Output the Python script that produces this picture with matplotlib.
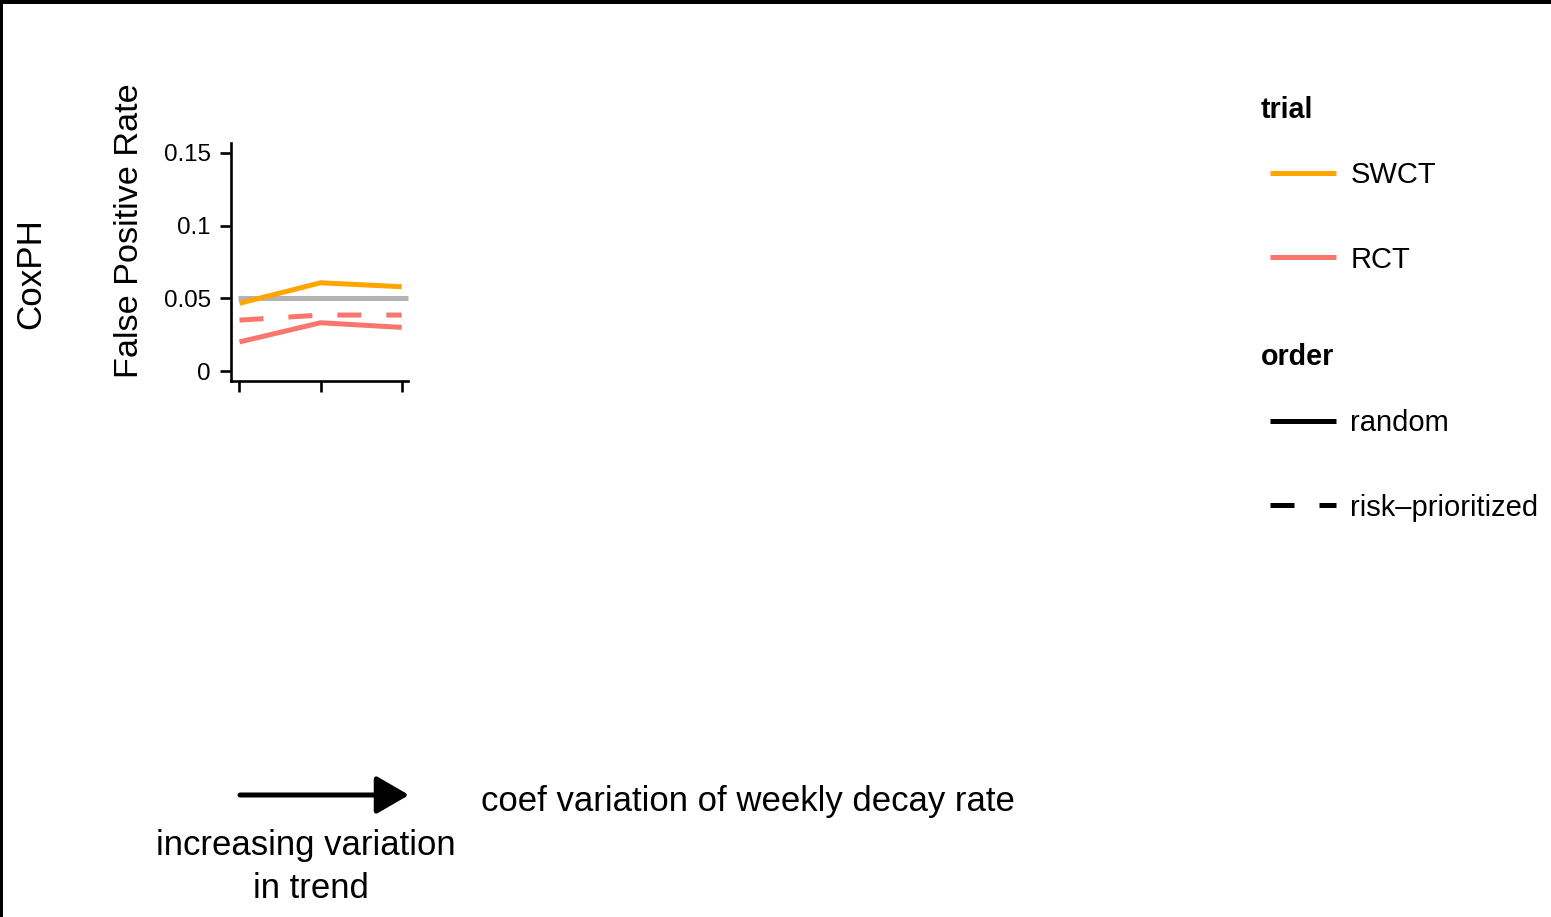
import matplotlib
matplotlib.use("Agg")
import matplotlib.pyplot as plt
from matplotlib.lines import Line2D
from matplotlib.patches import FancyArrowPatch, Rectangle

plt.rcParams["font.family"] = ["Liberation Sans", "DejaVu Sans"]

# ---- data ----
variation_levels = [1, 2, 3]
swct_random = [0.0466, 0.0607, 0.058]
rct_random = [0.020, 0.0332, 0.030]
rct_risk = [0.035, 0.0385, 0.0385]
nominal_alpha = 0.05
y_ticks = [0, 0.05, 0.1, 0.15]
y_ticklabels = ["0", "0.05", "0.1", "0.15"]

ORANGE = "#FFA500"
SALMON = "#F8766D"
GREY = "#B3B3B3"
DASHED = (0, (4.8, 5.0))

W, H = 1551, 917
fig = plt.figure(figsize=(W / 100, H / 100), dpi=100)


def fx(px):
    return px / W


def fy(py):
    return 1 - py / H


# panel
left, right, top, bottom = 231, 408, 143, 381
ax = fig.add_axes([fx(left), fy(bottom), fx(right - left), (bottom - top) / H])
lw = 3.6
ax.hlines(nominal_alpha, 0.98, 3.0777, color=GREY, lw=lw, clip_on=False, zorder=1)
ax.plot(variation_levels, swct_random, color=ORANGE, lw=lw, solid_capstyle="butt", zorder=3)
ax.plot(variation_levels, rct_random, color=SALMON, lw=lw, solid_capstyle="butt", zorder=3)
ax.plot(variation_levels, rct_risk, color=SALMON, lw=lw, linestyle=DASHED,
        dash_capstyle="butt", zorder=3)

ax.set_xlim(0.8952, 3.0777)
ax.set_ylim(-0.00688, 0.15688)
ax.set_xticks(variation_levels)
ax.set_xticklabels([])
ax.set_yticks(y_ticks)
ax.set_yticklabels(y_ticklabels)
for s in ["top", "right"]:
    ax.spines[s].set_visible(False)
for s in ["left", "bottom"]:
    ax.spines[s].set_linewidth(1.9)
ax.tick_params(axis="both", length=8, width=1.9, color="black")
ax.tick_params(axis="y", labelsize=17.4, pad=6.5)
ax.patch.set_alpha(0)

# axis / facet labels
fig.text(fx(129), fy(231), "False Positive Rate", rotation=90, fontsize=24.7,
         ha="center", va="center")
fig.text(fx(31), fy(274), "CoxPH", rotation=90, fontsize=25.2, ha="center", va="center")

# legends: bold titles with indented key rows beneath
trial_handles = [Line2D([], [], color=ORANGE, lw=lw, solid_capstyle="butt"),
                 Line2D([], [], color=SALMON, lw=lw, solid_capstyle="butt")]
order_handles = [Line2D([], [], color="black", lw=lw, solid_capstyle="butt"),
                 Line2D([], [], color="black", lw=lw, linestyle=DASHED, dash_capstyle="butt")]
leg_kw = dict(frameon=False, fontsize=21, handlelength=2.26, handletextpad=0.5,
              labelspacing=1.94, borderpad=0, borderaxespad=0, loc="upper left")
fig.text(fx(1261), fy(110), "trial", fontsize=20.6, fontweight="bold", ha="left", va="center")
fig.legend(trial_handles, ["SWCT", "RCT"], bbox_to_anchor=(fx(1270), fy(161)), **leg_kw)
fig.text(fx(1261), fy(357), "order", fontsize=20.6, fontweight="bold", ha="left", va="center")
fig.legend(order_handles, ["random", "risk\u2013prioritized"],
           bbox_to_anchor=(fx(1270), fy(409)), **leg_kw)

# arrow and its caption
arrow = FancyArrowPatch((fx(240), fy(795)), (fx(409), fy(795)), transform=fig.transFigure,
                        arrowstyle="-|>,head_length=1.0,head_width=0.58", mutation_scale=20,
                        lw=lw, color="black", shrinkA=0, shrinkB=0)
fig.add_artist(arrow)
fig.text(fx(305.5), fy(845), "increasing variation", fontsize=25, ha="center", va="center")
fig.text(fx(310.5), fy(888), "in trend", fontsize=25, ha="center", va="center")
fig.text(fx(481), fy(802), "coef variation of weekly decay rate", fontsize=25,
         ha="left", va="center")

# frame edges
fig.add_artist(Rectangle((0, fy(4)), 1, 4 / H, transform=fig.transFigure,
                         color="black", lw=0))
fig.add_artist(Rectangle((0, 0), 3 / W, 1, transform=fig.transFigure,
                         color="black", lw=0))

fig.savefig("out.png", dpi=100)
